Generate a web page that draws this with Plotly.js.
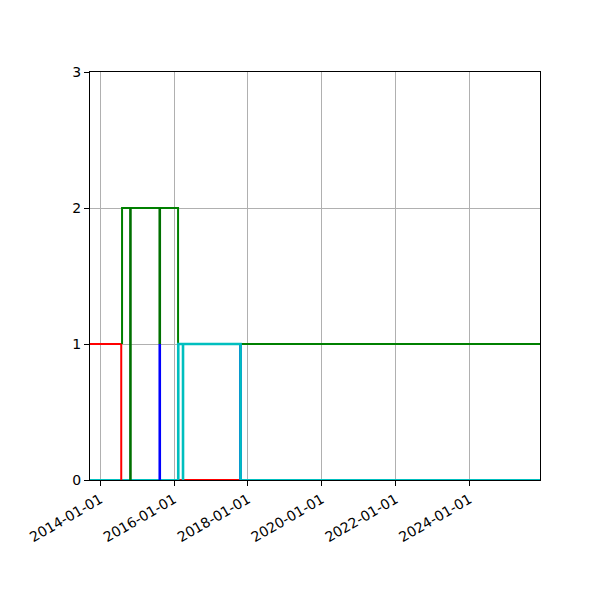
<!DOCTYPE html>
<html>
<head>
<meta charset="utf-8">
<script src="https://cdn.plot.ly/plotly-3.0.1.min.js"></script>
<style>
  body { margin: 0; background: #fff; }
  #chart { width: 600px; height: 600px; }
</style>
</head>
<body>
<div id="chart"></div>
<script>
// step segments (dates, level)
const baseDates = ["2013-09-22", "2025-11-29"];
const baseVals = [0, 0];

const redDates = ["2013-09-22", "2014-07-28", "2014-07-28", null, "2016-02-12", "2017-10-20"];
const redVals = [1, 1, 0, null, 0, 0];

const greenDates = ["2014-08-05", "2014-08-05", "2016-02-10", "2016-02-10", null, "2017-10-20", "2025-11-29"];
const greenVals = [1, 2, 2, 1, null, 1, 1];

const darkGreenDates = ["2014-10-27", "2014-10-27", null, "2015-08-13", "2015-08-13"];
const darkGreenVals = [0, 2, null, 1, 2];

const blueDates = ["2015-08-13", "2015-08-13", null, "2017-10-19", "2017-10-19"];
const blueVals = [0, 1, null, 0, 1];

const cyanDates = ["2016-02-12", "2016-02-12", "2017-10-20", "2017-10-20", null, "2016-03-30", "2016-03-30"];
const cyanVals = [0, 1, 1, 0, null, 0, 1];

const xTicks = ["2014-01-01", "2016-01-01", "2018-01-01", "2020-01-01", "2022-01-01", "2024-01-01"];
const yTicks = [0, 1, 2, 3];

function seg(x, y, color, width) {
  return {
    x: x, y: y, type: "scatter", mode: "lines",
    line: { color: color, width: width },
    connectgaps: false, hoverinfo: "skip", showlegend: false
  };
}

const data = [
  seg(baseDates, baseVals, "#00bfbf", 2),
  seg(redDates, redVals, "#ff0000", 2),
  seg(greenDates, greenVals, "#008000", 2),
  seg(darkGreenDates, darkGreenVals, "#007000", 2.6),
  seg(blueDates, blueVals, "#0000ff", 2.6),
  seg(cyanDates, cyanVals, "#00bfbf", 2.6),
];

const axisCommon = {
  showline: true, mirror: true, linecolor: "#000", linewidth: 1,
  ticks: "outside", ticklen: 5, tickwidth: 1, tickcolor: "#000",
  showgrid: true, gridcolor: "#b0b0b0", gridwidth: 1,
  zeroline: false,
  tickfont: { family: "DejaVu Sans", size: 14, color: "#000" }
};

const layout = {
  width: 600, height: 600,
  margin: { l: 90, r: 60, t: 72, b: 120 },
  paper_bgcolor: "#fff", plot_bgcolor: "#fff",
  xaxis: Object.assign({}, axisCommon, {
    type: "date",
    range: ["2013-09-22", "2025-11-29"],
    tickvals: xTicks,
    ticktext: xTicks,
    tickangle: -30
  }),
  yaxis: Object.assign({}, axisCommon, {
    range: [0, 3],
    tickvals: yTicks
  })
};

Plotly.newPlot("chart", data, layout, { staticPlot: true });
</script>
</body>
</html>
